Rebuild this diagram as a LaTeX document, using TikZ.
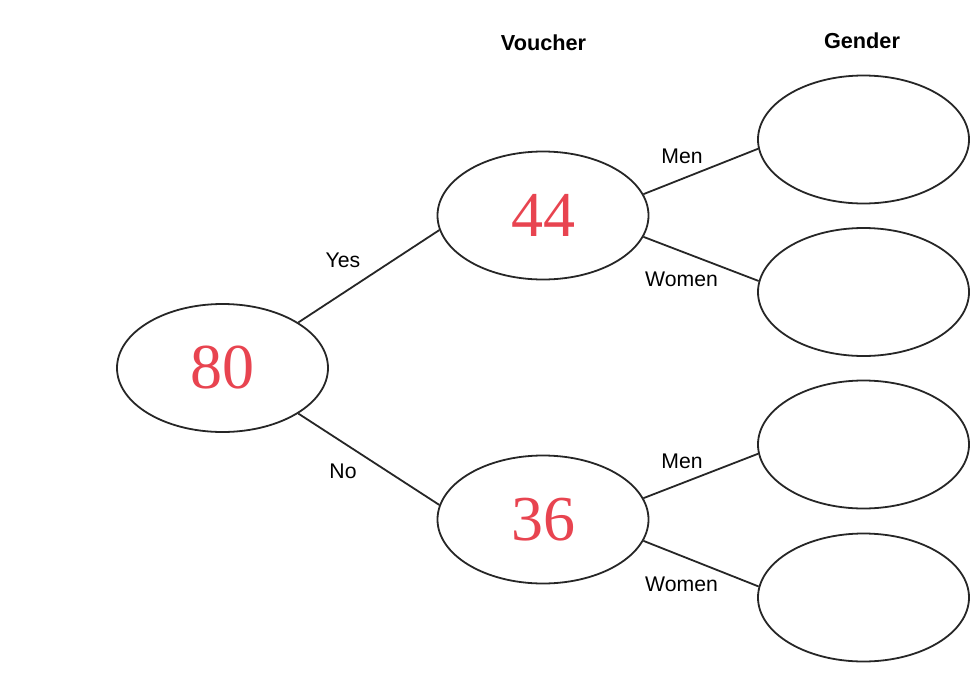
\documentclass[tikz,border=0pt]{standalone}
\usepackage{fontspec}
\setmainfont{Liberation Sans}
\newfontfamily\numfont{Liberation Serif}
\usetikzlibrary{shapes.geometric}
\definecolor{numred}{RGB}{232,68,80}
\tikzset{
  oval/.style={ellipse, draw=black!85, line width=1.8pt, minimum width=211pt, minimum height=128pt, inner sep=0pt,
    font=\numfont\fontsize{64}{64}\selectfont, text=numred},
  edge/.style={draw=black!85, line width=1.8pt},
  lbl/.style={font=\fontsize{21.2}{24}\selectfont, inner sep=0pt},
  hdr/.style={font=\bfseries\fontsize{21.7}{24}\selectfont, inner sep=0pt}
}
\begin{document}
\begin{tikzpicture}[x=1pt,y=-1pt]
\useasboundingbox (0,0) rectangle (980,699);
\node[oval] (root) at (222.5,368) {80};
\node[oval] (v44) at (543,215.5) {44};
\node[oval] (v36) at (543,519.5) {36};
\node[oval] (g1) at (863.5,139.5) {};
\node[oval] (g2) at (863.5,292) {};
\node[oval] (g3) at (863.5,444.5) {};
\node[oval] (g4) at (863.5,597.5) {};
\node[hdr] (hv) at (543.5,43) {Voucher};
\node[hdr] (hg) at (862,41) {Gender};
\node[lbl] (lyes) at (343,260) {Yes};
\node[lbl] (lno) at (343,471) {No};
\node[lbl] (lm1) at (682,156) {Men};
\node[lbl] (lw1) at (681.5,279) {Women};
\node[lbl] (lm2) at (682,461) {Men};
\node[lbl] (lw2) at (681.5,584) {Women};
\draw[edge] (root.31) -- (v44.188);
\draw[edge] (root.-31) -- (v36.172);
\draw[edge] (v44.12) -- (g1.185.5);
\draw[edge] (v44.-12.5) -- (g2.174.5);
\draw[edge] (v36.12) -- (g3.185.5);
\draw[edge] (v36.-12.5) -- (g4.174.5);
\end{tikzpicture}
\end{document}
